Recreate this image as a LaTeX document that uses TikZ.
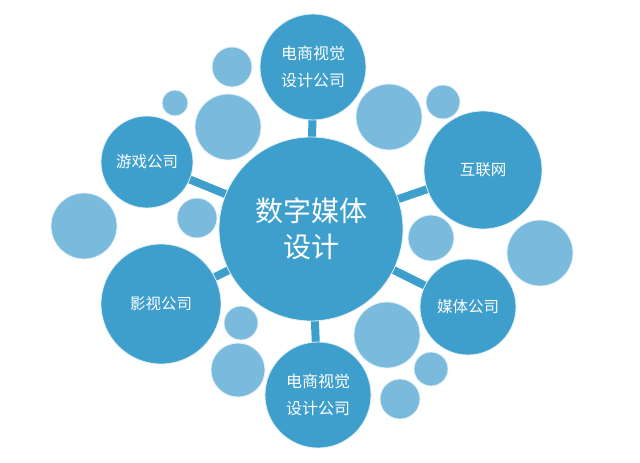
\documentclass[tikz,border=0pt]{standalone}
\usepackage{fontspec}
\newfontfamily\cjk{Noto Sans CJK SC}
\definecolor{dark}{RGB}{62,159,205}
\definecolor{light}{RGB}{122,187,221}
\begin{document}
\begin{tikzpicture}[x=1pt,y=-1pt,
  darkc/.style={circle,fill=dark,draw=white!85!dark,line width=0.8pt,inner sep=0pt,text=white,font=\cjk,align=center},
  lightc/.style={circle,fill=light,draw=white!80!light,line width=0.8pt,inner sep=0pt},
  bar/.style={draw=dark,line width=8pt}]
\useasboundingbox (0,0) rectangle (640,463);
\fill[white] (0,0) rectangle (640,463);
% coordinates for connectors
\coordinate (cc) at (311,229);
\coordinate (ct) at (313,67);
\coordinate (cg) at (147,162);
\coordinate (ch) at (483,170);
\coordinate (cy) at (161,304);
\coordinate (cm) at (468,307);
\coordinate (cb) at (318,395);
\draw[bar] (cc) -- (ct);
\draw[bar] (cc) -- (cg);
\draw[bar] (cc) -- (ch);
\draw[bar] (cc) -- (cy);
\draw[bar] (cc) -- (cm);
\draw[bar] (cc) -- (cb);
% light circles
\node[lightc,minimum size=40pt] (l1) at (232,67) {};
\node[lightc,minimum size=26pt] (l2) at (175,103) {};
\node[lightc,minimum size=66pt] (l3) at (228,127) {};
\node[lightc,minimum size=66pt] (l4) at (84,226) {};
\node[lightc,minimum size=40pt] (l5) at (197,218) {};
\node[lightc,minimum size=66pt] (l6) at (389,117) {};
\node[lightc,minimum size=34pt] (l7) at (443,102) {};
\node[lightc,minimum size=46pt] (l8) at (431,238) {};
\node[lightc,minimum size=66pt] (l9) at (540,253) {};
\node[lightc,minimum size=34pt] (l10) at (241,323) {};
\node[lightc,minimum size=54pt] (l11) at (238,370) {};
\node[lightc,minimum size=66pt] (l12) at (387,335) {};
\node[lightc,minimum size=34pt] (l13) at (431,369) {};
\node[lightc,minimum size=40pt] (l14) at (400,399) {};
% dark nodes
\node[darkc,minimum size=184pt,font=\cjk\fontsize{28}{36}\selectfont] (c) at (cc) {数字媒体\\设计};
\node[darkc,minimum size=106pt,font=\cjk\fontsize{16}{27}\selectfont] (t) at (ct) {电商视觉\\设计公司};
\node[darkc,minimum size=92pt,font=\cjk\fontsize{15.5}{18}\selectfont] (g) at (cg) {游戏公司};
\node[darkc,minimum size=118pt,font=\cjk\fontsize{15.5}{18}\selectfont] (h) at (ch) {互联网};
\node[darkc,minimum size=120pt,font=\cjk\fontsize{15.5}{18}\selectfont] (y) at (cy) {影视公司};
\node[darkc,minimum size=96pt,font=\cjk\fontsize{15.5}{18}\selectfont] (m) at (cm) {媒体公司};
\node[darkc,minimum size=106pt,font=\cjk\fontsize{16}{27}\selectfont] (b) at (cb) {电商视觉\\设计公司};
\end{tikzpicture}
\end{document}
